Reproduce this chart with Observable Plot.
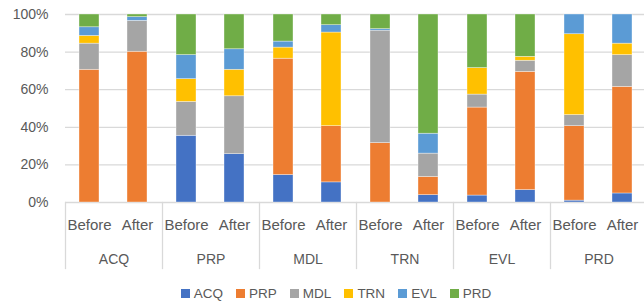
<!DOCTYPE html>
<html>
<head>
<meta charset="utf-8">
<script src="https://cdn.jsdelivr.net/npm/d3@7"></script>
<script src="https://cdn.jsdelivr.net/npm/@observablehq/plot@0.6"></script>
<style>
  html, body { margin: 0; padding: 0; background: #fff; width: 644px; height: 304px; overflow: hidden; }
  #chart svg { display: block; }
  #legend { display: flex; justify-content: center; align-items: center; height: 22px;
            font-family: "Liberation Sans", Arial, sans-serif; font-size: 13.5px; color: #595959; padding-left: 28px; }
  .item { display: flex; align-items: center; margin: 0 6.5px; }
  .sw { width: 9px; height: 9px; margin-right: 4px; }
</style>
</head>
<body>
<div id="chart"></div>
<div id="legend"></div>
<script>
const groups = ["ACQ", "PRP", "MDL", "TRN", "EVL", "PRD"];
const phases = ["Before", "After"];
const codes = ["ACQ", "PRP", "MDL", "TRN", "EVL", "PRD"];
const colors = ["#4472C4", "#ED7D31", "#A5A5A5", "#FFC000", "#5B9BD5", "#70AD47"];
const yTicks = [0, 20, 40, 60, 80, 100];

// percentages per bar, order: ACQ Before, ACQ After, PRP Before, PRP After, ...
const ACQ = [0, 0, 35.5, 25.7, 14.6, 10.7, 0, 3.9, 3.7, 6.6, 1.0, 4.8];
const PRP = [70.6, 80.2, 0, 0, 61.9, 29.9, 31.6, 9.7, 46.8, 62.9, 39.6, 56.7];
const MDL = [13.9, 16.4, 18.0, 30.8, 0, 0, 59.8, 12.4, 6.9, 5.9, 5.9, 16.9];
const TRN = [4.1, 0, 12.1, 14.1, 5.9, 49.8, 0, 0, 14.1, 2.1, 43.0, 6.1];
const EVL = [4.6, 2.0, 12.8, 10.9, 3.2, 3.9, 0.8, 10.6, 0, 0, 10.5, 15.5];
const PRD = [6.8, 1.4, 21.6, 18.5, 14.4, 5.7, 7.8, 63.4, 28.5, 22.5, 0, 0];

const series = [ACQ, PRP, MDL, TRN, EVL, PRD];
const data = [];
groups.forEach((g, gi) => {
  phases.forEach((p, pi) => {
    const idx = gi * 2 + pi;
    codes.forEach((c, ci) => {
      data.push({group: g, phase: p, code: c, value: series[ci][idx]});
    });
  });
});

const font = '"Liberation Sans", Arial, sans-serif';
const grey = "#595959";

const chart = Plot.plot({
  width: 644,
  height: 282,
  marginTop: 14,
  marginBottom: 80,
  marginLeft: 63,
  marginRight: -4,
  style: {fontFamily: font, color: grey, background: "white", overflow: "hidden"},
  fx: {domain: groups, padding: 0, label: null},
  x: {domain: phases, paddingInner: 0.58, paddingOuter: 0.29, label: null},
  y: {domain: [0, 100], label: null},
  color: {domain: codes, range: colors},
  marks: [
    Plot.gridY(yTicks, {stroke: "#d9d9d9", strokeOpacity: 1, strokeWidth: 1.3}),
    Plot.frame({anchor: "left", stroke: "#d9d9d9", strokeWidth: 1.3, insetTop: 188, insetBottom: -66}),
    Plot.barY(data, Plot.stackY({x: "phase", fx: "group", y: "value", fill: "code", stroke: "white", strokeWidth: 0.6, strokeOpacity: 0.6})),
    Plot.axisY(yTicks, {tickSize: 0, tickPadding: 17, fontSize: 14, tickFormat: d => d + "%", fill: grey, label: null}),
    Plot.axisX({tickSize: 0, tickPadding: 17, fontSize: 15, fill: grey, label: null}),
    Plot.axisFx({anchor: "bottom", tickSize: 0, tickPadding: 52, fontSize: 14, fill: grey, label: null})
  ]
});
document.getElementById("chart").appendChild(chart);

const legend = document.getElementById("legend");
codes.forEach((c, i) => {
  const item = document.createElement("div");
  item.className = "item";
  const sw = document.createElement("div");
  sw.className = "sw";
  sw.style.background = colors[i];
  const t = document.createElement("span");
  t.textContent = c;
  item.appendChild(sw);
  item.appendChild(t);
  legend.appendChild(item);
});
</script>
</body>
</html>
